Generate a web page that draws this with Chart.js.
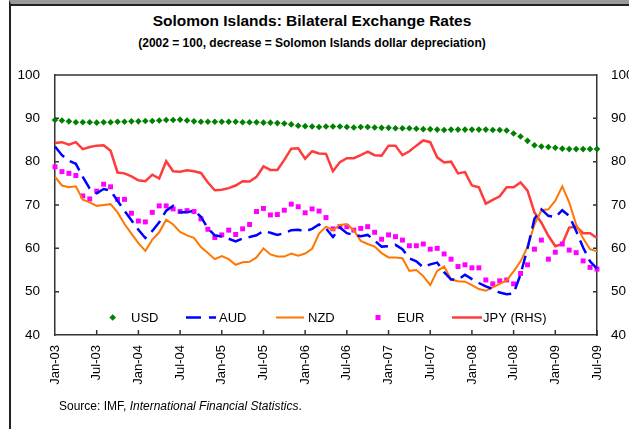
<!DOCTYPE html>
<html>
<head>
<meta charset="utf-8">
<script src="https://cdn.jsdelivr.net/npm/chart.js@4"></script>
<style>
  body { margin: 0; background: #fff; font-family: "Liberation Sans", Arial, sans-serif; }
  #wrap { position: relative; width: 629px; height: 429px; overflow: hidden; }
  .frame { position: absolute; left: 9px; top: 0; width: 700px; height: 500px; border-left: 2px solid #222; border-top: 4px solid #9a9a9a; }
  .frame-line { position: absolute; left: 9px; top: 4px; width: 700px; height: 1.5px; background: #222; }
  .title { position: absolute; left: 0; width: 624px; text-align: center; font-weight: bold; color: #000; }
  #t1 { top: 12px; font-size: 15.5px; }
  #t2 { top: 36px; font-size: 12px; }
  #source { position: absolute; left: 59px; top: 399px; font-size: 12px; color: #000; }
  canvas { position: absolute; left: 0; top: 0; }
</style>
</head>
<body>
<div id="wrap">
  <div class="frame"></div>
  <div class="frame-line"></div>
  <div class="title" id="t1">Solomon Islands: Bilateral Exchange Rates</div>
  <div class="title" id="t2">(2002 = 100, decrease = Solomon Islands dollar depreciation)</div>
  <canvas id="chart" width="629" height="429"></canvas>
  <div id="source">Source: IMF, <i>International Financial Statistics</i>.</div>
</div>
<script>
// Monthly labels Jan-03 .. Jul-09
const months = ["Jan", "Feb", "Mar", "Apr", "May", "Jun", "Jul", "Aug", "Sep", "Oct", "Nov", "Dec"];
const labels = [];
for (let y = 3; y <= 9; y++) {
  for (let m = 0; m < 12; m++) {
    if (y === 9 && m > 6) break;
    labels.push(months[m] + "-0" + y);
  }
}

const usd = [
  89.6, 89.5, 89.3, 89.1, 89.1, 89.1, 89.0, 89.1, 89.1, 89.2, 89.2, 89.3,
  89.3, 89.4, 89.4, 89.5, 89.6, 89.6, 89.7, 89.5, 89.3, 89.2, 89.2, 89.2,
  89.2, 89.2, 89.2, 89.1, 89.1, 89.1, 89.0, 89.0, 88.9, 88.8, 88.6, 88.3,
  88.2, 88.1, 88.0, 88.1, 88.1, 88.1, 88.0, 87.9, 88.0, 88.0, 87.9, 87.8,
  87.8, 87.7, 87.7, 87.7, 87.6, 87.5, 87.5, 87.4, 87.3, 87.4, 87.4, 87.4,
  87.4, 87.4, 87.4, 87.3, 87.3, 87.2, 86.5, 85.8, 84.8, 83.8, 83.5, 83.4,
  83.2, 83.0, 82.9, 82.9, 82.9, 82.9, 82.9
];
const aud = [
  83.5, 81.5, 80.2, 79.5, 76.5, 73.8, 72.7, 73.7, 73.3, 71.0, 68.7, 66.5,
  64.3, 62.4, 64.0, 66.0, 68.7, 69.8, 68.3, 68.3, 68.7, 67.3, 64.6, 63.0,
  62.7, 62.2, 61.6, 62.3, 62.6, 63.0, 64.0, 63.6, 63.1, 63.5, 64.2, 64.3,
  63.9, 64.5, 65.5, 64.6, 62.6, 64.8, 63.5, 63.1, 62.8, 63.1, 61.8, 60.4,
  60.5, 60.8, 59.8, 57.7, 57.0, 55.6, 56.3, 56.7, 54.5, 52.8, 52.8, 53.9,
  52.9, 52.0, 51.2, 50.6, 49.8, 49.4, 49.6, 54.0, 60.0, 66.8, 69.0, 67.5,
  67.2, 68.8, 67.5, 64.0, 60.2, 57.0, 55.3
];
const nzd = [
  76.5, 74.5, 74.1, 74.3, 71.2, 70.6, 69.8, 70.0, 70.2, 68.3, 65.6, 63.4,
  61.2, 59.4, 62.0, 63.7, 66.6, 65.5, 63.8, 63.0, 62.4, 60.3, 58.9, 57.5,
  58.2, 57.5, 56.2, 56.8, 56.9, 57.9, 60.0, 58.6, 58.1, 58.1, 58.8, 58.3,
  58.8, 59.9, 63.4, 65.0, 64.2, 65.4, 65.6, 64.2, 61.7, 61.0, 60.4, 58.9,
  57.9, 57.9, 57.7, 54.8, 55.0, 53.6, 51.5, 54.8, 55.8, 52.8, 52.4, 52.3,
  51.5, 50.6, 50.2, 51.0, 51.8, 52.6, 54.7, 57.0, 60.3, 65.5, 68.8, 69.0,
  71.0, 74.3, 70.6, 65.5, 62.3, 59.8, 59.3
];
const eur = [
  78.8, 77.7, 77.3, 76.8, 72.1, 71.4, 73.2, 74.8, 74.2, 71.3, 71.3, 68.1,
  66.3, 66.1, 68.3, 69.8, 69.8, 69.1, 68.5, 68.7, 68.5, 66.8, 64.4, 62.5,
  63.1, 64.2, 63.2, 64.5, 65.5, 68.5, 69.2, 67.7, 67.8, 68.8, 70.2, 69.6,
  68.2, 69.1, 68.6, 67.1, 64.5, 65.0, 65.0, 64.2, 64.6, 65.0, 63.7, 62.1,
  63.1, 62.7, 61.9, 60.6, 60.6, 61.0, 59.8, 60.0, 58.7, 57.5, 55.8, 56.2,
  55.5, 55.5, 52.7, 51.8, 52.5, 52.7, 51.8, 54.2, 56.2, 59.8, 61.9, 57.5,
  59.1, 61.0, 59.6, 59.0, 57.1, 55.6, 55.2
];
const jpy = [
  84.3, 84.5, 83.9, 84.5, 82.9, 83.4, 83.7, 83.8, 82.5, 77.5, 77.3, 76.6,
  75.7, 75.5, 77.0, 76.1, 80.1, 77.8, 77.7, 78.0, 77.8, 77.4, 75.2, 73.4,
  73.5, 73.9, 74.5, 75.5, 75.4, 76.5, 78.9, 78.1, 78.1, 80.4, 83.0, 83.1,
  80.7, 82.4, 81.9, 81.8, 77.8, 79.9, 80.8, 80.8, 81.5, 82.3, 81.5, 81.4,
  83.7, 83.7, 81.5, 82.4, 83.7, 84.9, 84.5, 81.0, 79.8, 80.0, 77.3, 77.6,
  74.5, 74.1, 70.3, 71.2, 72.0, 74.1, 74.1, 75.2, 73.3, 68.3, 65.9, 62.9,
  60.5, 61.0, 64.8, 65.0, 63.5, 63.5, 62.4
];

const FONT = "Liberation Sans";

// axis box, inward tick marks and the in-plot legend
const extras = {
  id: "extras",
  afterDraw(chart) {
    const ctx = chart.ctx;
    const a = chart.chartArea;
    const x = chart.scales.x;
    const y = chart.scales.y;
    ctx.save();
    ctx.strokeStyle = "#333";
    ctx.lineWidth = 1.5;
    ctx.beginPath();
    ctx.moveTo(a.left, a.top);
    ctx.lineTo(a.right, a.top);
    for (let i = 6; i < labels.length; i += 6) {
      const px = x.getPixelForValue(i);
      ctx.moveTo(px, a.bottom);
      ctx.lineTo(px, a.bottom - 5);
    }
    for (let v = 50; v < 100; v += 10) {
      const py = y.getPixelForValue(v);
      ctx.moveTo(a.left, py);
      ctx.lineTo(a.left + 4, py);
      ctx.moveTo(a.right, py);
      ctx.lineTo(a.right - 4, py);
    }
    ctx.stroke();

    // legend
    const ly = 317.5;
    const ds = chart.data.datasets;
    ctx.font = "13px " + FONT;
    ctx.fillStyle = "#000";
    ctx.textBaseline = "middle";
    const textX = [131, 219, 308, 397, 483];
    ds.forEach((d, i) => ctx.fillText(d.label, textX[i], ly + 1));

    // USD diamond
    ctx.fillStyle = ds[0].backgroundColor;
    ctx.beginPath();
    ctx.moveTo(112.7, ly - 3.3);
    ctx.lineTo(116, ly);
    ctx.lineTo(112.7, ly + 3.3);
    ctx.lineTo(109.4, ly);
    ctx.closePath();
    ctx.fill();
    // AUD dashes
    ctx.strokeStyle = ds[1].borderColor;
    ctx.lineWidth = ds[1].borderWidth;
    ctx.beginPath();
    ctx.moveTo(186, ly); ctx.lineTo(201, ly);
    ctx.moveTo(209, ly); ctx.lineTo(216, ly);
    ctx.stroke();
    // NZD line
    ctx.strokeStyle = ds[2].borderColor;
    ctx.lineWidth = ds[2].borderWidth;
    ctx.beginPath();
    ctx.moveTo(276, ly); ctx.lineTo(304, ly);
    ctx.stroke();
    // EUR square
    ctx.fillStyle = ds[3].backgroundColor;
    ctx.fillRect(375.5, ly - 2.5, 5, 5);
    // JPY line
    ctx.strokeStyle = ds[4].borderColor;
    ctx.lineWidth = ds[4].borderWidth;
    ctx.beginPath();
    ctx.moveTo(452, ly); ctx.lineTo(482, ly);
    ctx.stroke();
    ctx.restore();
  }
};

const axisFont = { family: FONT, size: 13.5 };

new Chart(document.getElementById("chart"), {
  type: "line",
  data: {
    labels: labels,
    datasets: [
      {
        label: "USD", data: usd, showLine: false,
        pointStyle: "rectRot", pointRadius: 3.3,
        backgroundColor: "#008000", borderColor: "#008000", pointBorderWidth: 0,
        yAxisID: "y"
      },
      {
        label: "AUD", data: aud, borderColor: "#0000ff", borderWidth: 2.5,
        borderDash: [14, 7], pointRadius: 0, yAxisID: "y"
      },
      {
        label: "NZD", data: nzd, borderColor: "#ff7700", borderWidth: 2,
        pointRadius: 0, yAxisID: "y"
      },
      {
        label: "EUR", data: eur, showLine: false,
        pointStyle: "rect", pointRadius: 3.5,
        backgroundColor: "#ff00ff", borderColor: "#ff00ff", pointBorderWidth: 0,
        yAxisID: "y"
      },
      {
        label: "JPY (RHS)", data: jpy, borderColor: "#ff3c3c", borderWidth: 2.5,
        pointRadius: 0, yAxisID: "y2"
      }
    ]
  },
  options: {
    responsive: false,
    animation: false,
    layout: { padding: { top: 75 } },
    plugins: {
      legend: { display: false },
      tooltip: { enabled: false }
    },
    elements: { line: { tension: 0 } },
    scales: {
      x: {
        type: "category",
        offset: false,
        grid: { display: false },
        border: { display: true, color: "#333", width: 1.5 },
        ticks: {
          autoSkip: false, minRotation: 90, maxRotation: 90, padding: 2,
          color: "#000", font: { family: FONT, size: 13 },
          callback: (v, i) => (i % 6 === 0 ? labels[i] : null)
        },
        afterFit: (s) => { s.height = 94; }
      },
      y: {
        position: "left", min: 40, max: 100,
        grid: { display: false },
        border: { display: true, color: "#333", width: 1.5 },
        ticks: { stepSize: 10, padding: 7, color: "#000", font: axisFont },
        afterFit: (s) => { s.width = 55; }
      },
      y2: {
        position: "right", min: 40, max: 100,
        grid: { display: false },
        border: { display: true, color: "#333", width: 1.5 },
        ticks: { stepSize: 10, padding: 6, color: "#000", font: axisFont },
        afterFit: (s) => { s.width = 32; }
      }
    }
  },
  plugins: [extras]
});
</script>
</body>
</html>
